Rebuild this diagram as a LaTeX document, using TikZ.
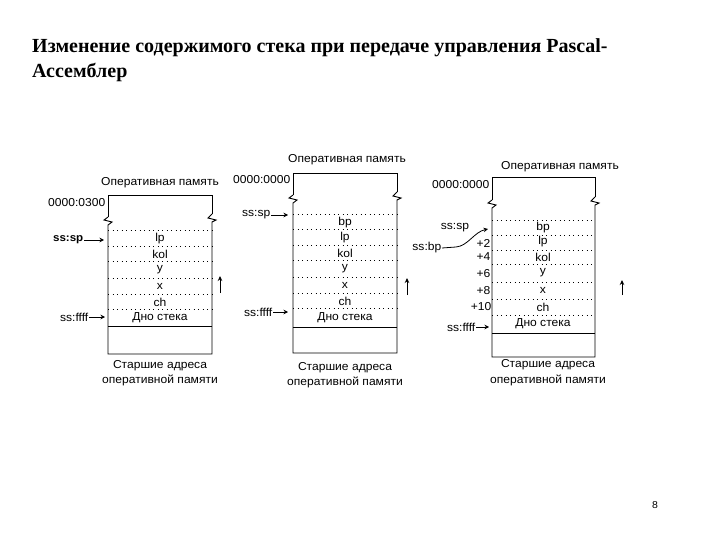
\documentclass[tikz,border=0pt]{standalone}
\usepackage{fontspec}
\setmainfont{Liberation Serif}
\newfontfamily\diagfont[FakeStretch=1.05]{Liberation Sans}
\usetikzlibrary{arrows.meta}
\begin{document}
\begin{tikzpicture}[x=1pt,y=-1pt,
  title/.style={font=\fontsize{20}{24}\selectfont\bfseries, anchor=base west, inner sep=0},
  lbl/.style={font=\diagfont\fontsize{11.5}{13}\selectfont, inner sep=0.5pt},
  side/.style={line width=0.9pt},
  dotline/.style={line width=1pt, dash pattern=on 1.2pt off 3.3pt},
  solidline/.style={line width=0.9pt},
  ptr/.style={-{Stealth[length=4.5pt,width=4.5pt]}, line width=0.8pt},
  uparrow/.style={-{Stealth[length=5pt,width=4.5pt]}, line width=0.9pt}]
\useasboundingbox (0,0) rectangle (720,540);
% title
\node[title] (t1) at (32,53) {Изменение содержимого стека при передаче управления Pascal-};
\node[title] (t2) at (32,78) {Ассемблер};
\node[font=\diagfont\fontsize{10}{12}\selectfont] (pg) at (655,505) {8};

% ---------- diagram 1 ----------
\draw[side] (108,217) -- (108,195) -- (212,195) -- (212,214);
\draw[side] (108,217) -- (104,220) -- (112,222) -- (108,225) -- (108,354) -- (212,354) -- (212,222) -- (216,220) -- (208,218) -- (212,214);
\foreach \yy in {231,246,261,278,294,309} \draw[dotline] (108,\yy) -- (212,\yy);
\draw[solidline] (108,326) -- (212,326);
\node[lbl] (a0) at (160,183) {Оперативная память};
\node[lbl,anchor=east] (a1) at (106,203) {0000:0300};
\node[lbl] (a2) at (160,239) {lp};
\node[lbl] (a3) at (160,254) {kol};
\node[lbl] (a4) at (160,270) {y};
\node[lbl] (a5) at (160,286) {x};
\node[lbl] (a6) at (160,302) {ch};
\node[lbl] (a7) at (160,318) {Дно стека};
\node[lbl] (a8) at (160,366) {Старшие адреса};
\node[lbl] (a9) at (160,380) {оперативной памяти};
\node[lbl,anchor=east,font=\diagfont\bfseries\fontsize{11}{13}\selectfont] (asp) at (84,240) {ss:sp};
\coordinate (asp2) at (104,240);
\draw[ptr] (asp) -- (asp2);
\node[lbl,anchor=east] (aff) at (89,317) {ss:ffff};
\coordinate (aff2) at (105,317);
\draw[ptr] (aff) -- (aff2);
\coordinate (au1) at (220,293);
\coordinate (au2) at (220,276);
\draw[uparrow] (au1) -- (au2);

% ---------- diagram 2 ----------
\draw[side] (293,195) -- (293,173) -- (397,173) -- (397,192);
\draw[side] (293,195) -- (289,198) -- (297,200) -- (293,203) -- (293,353) -- (397,353) -- (397,200) -- (401,198) -- (393,196) -- (397,192);
\foreach \yy in {215,230,245,260,277,293,308} \draw[dotline] (293,\yy) -- (397,\yy);
\draw[solidline] (293,327) -- (397,327);
\node[lbl] (b0) at (347,160) {Оперативная память};
\node[lbl,anchor=east] (b1) at (291,180) {0000:0000};
\node[lbl] (b2) at (345,223) {bp};
\node[lbl] (b3) at (345,238) {lp};
\node[lbl] (b4) at (345,253) {kol};
\node[lbl] (b5) at (345,269) {y};
\node[lbl] (b6) at (345,285) {x};
\node[lbl] (b7) at (345,301) {ch};
\node[lbl] (b8) at (345,318) {Дно стека};
\node[lbl] (b9) at (345,368) {Старшие адреса};
\node[lbl] (b10) at (345,382) {оперативной памяти};
\node[lbl,anchor=east] (bsp) at (271,215) {ss:sp};
\coordinate (bsp2) at (288,215);
\draw[ptr] (bsp) -- (bsp2);
\node[lbl,anchor=east] (bff) at (273,312) {ss:ffff};
\coordinate (bff2) at (288,312);
\draw[ptr] (bff) -- (bff2);
\coordinate (bu1) at (407,295);
\coordinate (bu2) at (407,278);
\draw[uparrow] (bu1) -- (bu2);

% ---------- diagram 3 ----------
\draw[side] (492,200) -- (492,177) -- (595,177) -- (595,197);
\draw[side] (492,200) -- (488,203) -- (496,205) -- (492,208) -- (492,357) -- (595,357) -- (595,205) -- (599,203) -- (591,201) -- (595,197);
\foreach \yy in {221,235,250,264,282,299,315} \draw[dotline] (492,\yy) -- (595,\yy);
\draw[solidline] (492,333) -- (595,333);
\node[lbl] (c0) at (560,167) {Оперативная память};
\node[lbl,anchor=east] (c1) at (490,185) {0000:0000};
\node[lbl] (c2) at (543,228) {bp};
\node[lbl] (c3) at (543,242) {lp};
\node[lbl] (c4) at (543,257) {kol};
\node[lbl] (c5) at (543,273) {y};
\node[lbl] (c6) at (543,290) {x};
\node[lbl] (c7) at (543,307) {ch};
\node[lbl] (c8) at (543,324) {Дно стека};
\node[lbl] (c9) at (548,365) {Старшие адреса};
\node[lbl] (c10) at (548,380) {оперативной памяти};
\node[lbl,anchor=east] (o2) at (491,243) {+2};
\node[lbl,anchor=east] (o4) at (491,257) {+4};
\node[lbl,anchor=east] (o6) at (491,274) {+6};
\node[lbl,anchor=east] (o8) at (491,291) {+8};
\node[lbl,anchor=east] (o10) at (492,307) {+10};
\node[lbl] (csp) at (455,228) {ss:sp};
\node[lbl,anchor=east] (cbp) at (442,248) {ss:bp};
\coordinate (cbp2) at (488,229);
\draw[ptr] (cbp.east) -- ++(14,-1) .. controls (468,246) and (474,232) .. (cbp2);
\node[lbl,anchor=east] (cff) at (476,327) {ss:ffff};
\coordinate (cff2) at (489,327);
\draw[ptr] (cff) -- (cff2);
\coordinate (cu1) at (622,295);
\coordinate (cu2) at (622,280);
\draw[uparrow] (cu1) -- (cu2);
\end{tikzpicture}
\end{document}
